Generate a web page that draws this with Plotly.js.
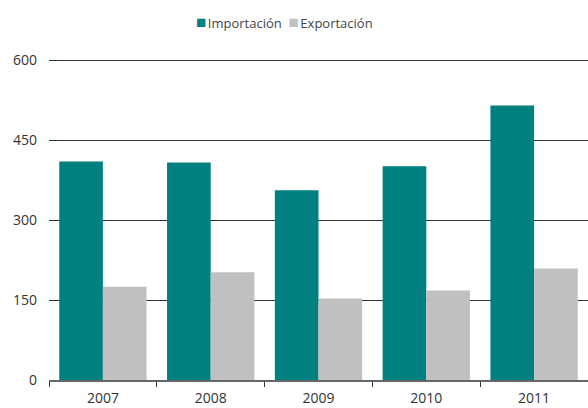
<!DOCTYPE html>
<html><head><meta charset="utf-8">
<script src="https://cdn.plot.ly/plotly-3.0.1.min.js"></script>
<style>body{margin:0;background:#fff}#chart{width:588px;height:408px}</style>
</head><body><div id="chart"></div>
<script>
var years = ['2007','2008','2009','2010','2011'];
var importacion = [410, 408, 356, 401, 515];
var exportacion = [175, 202, 153, 168, 209];
var yTicks = [0, 150, 300, 450, 600];
var seriesNames = ['Importación', 'Exportación'];
var seriesColors = ['#008080', '#c0c0c0'];

var traces = [
  {type:'bar', name:seriesNames[0], x:years, y:importacion, marker:{color:seriesColors[0]}},
  {type:'bar', name:seriesNames[1], x:years, y:exportacion, marker:{color:seriesColors[1]}}
];
var legendText = seriesNames.map(function(n,i){
  return '<span style="color:'+seriesColors[i]+';font-size:17px">■</span><span style="font-size:6px"> </span>'+n;
}).join('  ');
var layout = {
  width:588, height:408,
  margin:{l:49, r:0, t:58, b:28, pad:0},
  paper_bgcolor:'#fff', plot_bgcolor:'#fff',
  font:{family:'"Open Sans", sans-serif', size:14, color:'#333'},
  barmode:'group', bargap:0.19, bargroupgap:0,
  showlegend:false,
  annotations:[{xref:'paper', yref:'paper', x:(284-49)/539, y:(380-21)/322, xanchor:'center', yanchor:'middle',
    showarrow:false, text:legendText, font:{size:13, color:'#444'}}],
  xaxis:{type:'category', showgrid:false, showline:true, linecolor:'#666', linewidth:2,
         ticks:'outside', tickson:'boundaries', ticklen:5, tickcolor:'#333', tickwidth:1,
         ticklabelstandoff:4, tickfont:{size:14, color:'#333'}, zeroline:false},
  yaxis:{range:[0,604], tickvals:yTicks, ticktext:yTicks.map(String), showgrid:true,
         gridcolor:'#333', gridwidth:1, zeroline:false, showline:false, ticks:'',
         ticklabelstandoff:11, tickfont:{size:14, color:'#333'}}
};
Plotly.newPlot('chart', traces, layout, {displayModeBar:false, staticPlot:true});
</script></body></html>
